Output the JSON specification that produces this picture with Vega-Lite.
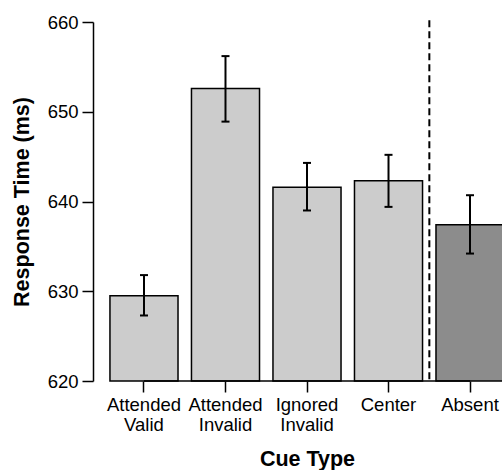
{
  "$schema": "https://vega.github.io/schema/vega-lite/v6.json",
  "autosize": {"type": "none"},
  "width": 409,
  "height": 359,
  "padding": {"left": 93, "top": 22, "right": 0, "bottom": 89},
  "background": "white",
  "config": {
    "view": {"stroke": null},
    "font": "Liberation Sans",
    "axis": {
      "labelFont": "Liberation Sans",
      "titleFont": "Liberation Sans",
      "labelColor": "black",
      "titleColor": "black",
      "tickColor": "black",
      "domainColor": "black",
      "grid": false
    }
  },
  "data": {
    "values": [
      {"cat": "Attended Valid", "rt": 629.5, "lo": 627.3, "hi": 631.8, "grp": "present"},
      {"cat": "Attended Invalid", "rt": 652.6, "lo": 648.9, "hi": 656.2, "grp": "present"},
      {"cat": "Ignored Invalid", "rt": 641.6, "lo": 639.0, "hi": 644.3, "grp": "present"},
      {"cat": "Center", "rt": 642.3, "lo": 639.4, "hi": 645.2, "grp": "present"},
      {"cat": "Absent", "rt": 637.4, "lo": 634.2, "hi": 640.7, "grp": "absent"}
    ]
  },
  "encoding": {
    "x": {
      "field": "cat",
      "type": "nominal",
      "sort": null,
      "scale": {"type": "band", "paddingInner": 0.165, "paddingOuter": 0.208, "rangeMax": 428},
      "axis": {
        "title": "Cue Type",
        "titleFontSize": 21.5,
        "titleFontWeight": "bold",
        "titlePadding": 14.5,
        "domain": false,
        "labelAngle": 0,
        "labelFontSize": 18.5,
        "labelExpr": "split(datum.label, ' ')",
        "labelLineHeight": 20,
        "labelBaseline": "top",
        "labelPadding": 3,
        "tickSize": 11,
        "tickWidth": 1.5
      }
    }
  },
  "layer": [
    {
      "mark": {"type": "bar", "stroke": "black", "strokeWidth": 1.5, "opacity": 1},
      "encoding": {
        "y": {
          "field": "rt",
          "type": "quantitative",
          "scale": {"domain": [620, 660], "zero": false, "nice": false},
          "axis": {
            "title": "Response Time (ms)",
            "titleFontSize": 21.5,
            "titleFontWeight": "bold",
            "titlePadding": 14,
            "values": [620, 630, 640, 650, 660],
            "labelFontSize": 18.5,
            "labelPadding": 4,
            "tickSize": 11,
            "tickWidth": 1.5,
            "domainWidth": 1.5
          }
        },
        "y2": {"datum": 620},
        "color": {
          "field": "grp",
          "type": "nominal",
          "scale": {"domain": ["present", "absent"], "range": ["#CCCCCC", "#8C8C8C"]},
          "legend": null
        }
      }
    },
    {
      "data": {"values": [{}]},
      "mark": {"type": "rule", "color": "black", "strokeWidth": 2, "strokeDash": [7, 4]},
      "encoding": {
        "x": {"datum": "Center", "bandPosition": 1.1},
        "y": {"datum": 660.2},
        "y2": {"datum": 620}
      }
    },
    {
      "mark": {"type": "rule", "color": "black", "strokeWidth": 2},
      "encoding": {
        "y": {"field": "lo", "type": "quantitative"},
        "y2": {"field": "hi"}
      }
    },
    {
      "mark": {"type": "tick", "color": "black", "thickness": 2, "size": 8, "opacity": 1},
      "encoding": {"y": {"field": "lo", "type": "quantitative"}}
    },
    {
      "mark": {"type": "tick", "color": "black", "thickness": 2, "size": 8, "opacity": 1},
      "encoding": {"y": {"field": "hi", "type": "quantitative"}}
    },
    {
      "data": {"values": [{}]},
      "mark": {"type": "rule", "color": "black", "strokeWidth": 1.5},
      "encoding": {
        "x": {"datum": "Attended Valid"},
        "x2": {"datum": "Absent"},
        "y": {"datum": 620}
      }
    }
  ]
}
